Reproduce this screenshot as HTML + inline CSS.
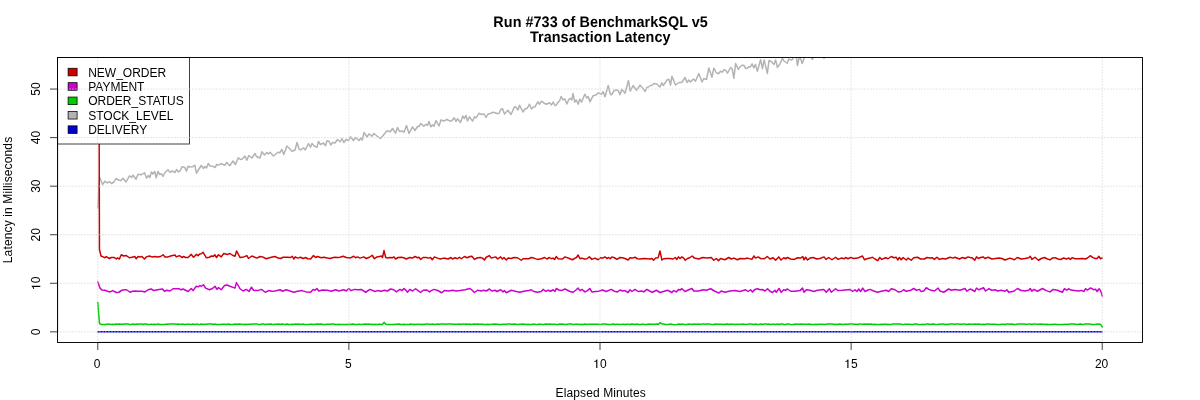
<!DOCTYPE html>
<html><head><meta charset="utf-8"><style>html,body{margin:0;padding:0;background:#fff;width:1200px;height:400px;overflow:hidden}svg{display:block;will-change:transform}</style></head>
<body><svg width="1200" height="400" viewBox="0 0 1200 400">
<rect width="1200" height="400" fill="#fff"/>
<defs><clipPath id="pc"><rect x="57.6" y="57.6" width="1084.8" height="284.8"/></clipPath></defs>
<g clip-path="url(#pc)">
<line x1="97.78" y1="331.75" x2="1102.22" y2="331.75" stroke="#0000CD" stroke-width="1.5" stroke-linecap="round"/>
<polyline points="97.80,208.00 99.45,177.00 100.00,178.00 102.50,184.50 105.00,181.20 107.50,183.00 109.50,181.50 111.50,183.50 114.00,182.00 116.00,178.50 118.50,180.00 121.00,180.50 123.00,178.20 126.00,182.00 129.50,175.80 131.50,177.50 133.00,175.20 136.00,179.30 138.00,174.30 141.00,174.80 144.50,172.80 146.50,178.00 148.50,175.50 149.80,177.50 151.50,172.00 153.00,174.00 154.80,171.50 156.20,177.80 158.00,171.50 159.80,174.50 161.50,173.80 163.00,176.50 165.00,172.50 168.00,169.70 170.00,172.20 172.50,171.00 175.00,172.50 176.50,169.50 178.50,172.00 180.00,171.00 182.00,166.80 184.50,167.20 186.50,171.20 188.00,166.20 190.00,167.00 192.50,166.80 194.80,165.20 196.50,173.20 199.00,169.00 201.20,165.50 203.50,168.50 205.00,166.50 206.50,168.00 208.20,163.50 210.00,166.00 212.50,166.20 215.00,167.50 216.80,164.50 219.00,165.00 221.00,163.50 223.00,164.50 225.00,165.20 226.80,162.50 229.80,165.80 233.00,161.00 235.50,164.50 238.20,157.80 240.50,159.50 242.20,159.00 245.00,156.00 246.80,160.30 248.80,155.50 252.00,158.00 255.00,153.50 256.50,156.50 260.00,158.00 261.80,151.80 264.50,155.00 266.80,152.50 268.20,154.00 270.00,152.20 273.50,156.00 278.00,152.20 279.80,152.80 281.80,149.50 283.80,154.50 286.80,146.00 289.50,148.50 292.00,151.20 295.00,150.00 297.00,142.50 299.00,148.80 300.50,150.00 303.50,147.80 305.30,150.00 308.50,143.50 310.50,147.20 312.00,143.50 314.20,146.00 317.00,147.20 318.50,141.50 320.50,144.50 323.50,143.00 325.50,145.80 327.00,140.80 329.00,141.20 330.70,145.00 332.50,142.50 335.00,143.00 337.50,139.50 340.20,141.80 342.00,138.50 343.80,142.50 346.00,139.50 348.50,140.50 350.50,136.80 353.50,140.50 355.50,137.50 359.00,140.50 360.80,138.00 362.20,140.20 364.00,132.50 367.00,137.00 369.00,133.80 371.80,136.20 374.00,133.50 377.00,136.00 380.50,138.50 383.50,135.00 387.00,130.80 390.20,131.80 392.50,128.50 395.50,133.20 397.50,127.50 399.50,131.50 402.00,131.00 404.00,132.20 406.50,125.50 409.00,133.50 412.50,126.80 415.00,130.50 417.50,126.50 419.00,126.50 420.80,123.50 423.80,126.20 426.00,124.20 427.50,125.50 429.00,121.50 430.80,126.80 432.50,124.80 434.00,126.20 436.00,120.50 439.00,126.00 441.00,119.80 443.50,121.20 447.00,119.50 450.00,121.20 452.00,120.50 454.20,117.80 456.00,121.50 457.50,118.80 460.50,122.50 462.80,116.00 464.20,118.50 466.00,115.50 467.50,121.00 469.50,116.80 472.50,121.20 474.50,116.80 476.00,117.80 479.00,113.30 481.50,114.50 484.00,114.00 486.00,117.50 488.00,114.00 490.50,113.50 493.00,112.20 495.00,112.80 497.00,113.50 499.00,113.50 500.80,109.50 502.50,108.80 504.50,114.00 507.80,110.20 511.00,114.50 514.50,106.80 516.00,107.20 518.00,110.00 519.50,105.20 523.00,112.00 525.00,109.00 527.50,108.00 529.50,104.20 531.50,109.00 533.50,107.00 535.00,106.80 537.80,101.80 539.50,104.20 541.50,101.20 544.00,103.20 546.50,104.20 549.50,102.80 551.50,105.00 553.20,102.00 555.00,105.50 556.20,105.20 558.00,102.20 559.50,101.00 561.20,96.50 563.00,100.00 564.80,98.80 566.80,104.00 569.00,99.20 570.20,98.50 571.80,100.00 573.00,93.50 574.80,102.20 576.20,99.80 578.20,104.20 579.80,99.00 581.50,102.20 584.80,94.20 586.80,98.00 588.20,96.50 590.00,101.80 593.00,95.80 595.50,95.20 598.50,92.80 601.20,94.20 603.20,91.80 605.00,96.80 608.20,85.50 610.20,93.80 611.50,94.80 614.20,90.50 616.20,90.00 618.20,90.50 620.00,94.80 621.80,89.20 625.00,93.20 628.50,80.50 630.20,91.20 633.20,85.50 636.50,90.20 640.00,85.20 643.00,88.50 645.20,91.50 647.00,87.20 648.50,87.00 650.50,85.50 652.00,85.20 654.00,83.50 656.80,84.00 660.00,87.00 661.80,82.80 663.20,85.50 667.50,79.50 669.00,79.50 670.50,85.00 672.00,76.20 675.50,85.00 679.00,82.50 681.80,82.50 685.00,77.50 687.00,82.50 688.80,80.00 690.50,82.00 693.50,79.00 695.50,81.20 698.80,73.50 702.00,82.00 703.80,78.50 706.50,79.50 708.80,68.00 712.00,77.20 713.80,68.20 716.20,72.50 718.50,73.80 720.50,71.20 722.20,72.20 724.00,69.80 725.50,70.20 727.50,73.20 730.50,67.50 732.20,69.00 733.90,78.25 735.60,63.60 738.25,69.25 740.10,66.60 742.40,65.10 743.90,65.50 745.75,68.50 747.40,68.35 748.75,66.60 750.25,67.15 752.10,63.85 753.85,67.90 755.50,64.40 757.40,71.35 760.60,59.65 762.40,68.65 764.10,59.90 767.35,73.40 769.00,60.40 771.60,61.75 773.90,64.40 775.60,59.90 777.40,67.40 779.50,64.75 782.50,58.40 784.00,61.00 785.00,61.75 787.25,63.25 788.75,59.10 790.60,59.90 792.50,59.50 794.00,54.00 796.00,53.00 797.40,65.50 799.60,56.00 802.25,63.60 804.90,56.00 807.00,52.00 809.00,53.00 812.40,59.50 815.00,52.00 818.00,50.00 821.00,52.00 824.00,58.40 827.00,50.00 830.00,47.00" fill="none" stroke="#B3B3B3" stroke-width="1.5" stroke-linejoin="round" stroke-linecap="round"/>
<polyline points="97.78,302.50 99.45,323.50 101.13,324.46 102.80,324.56 104.47,324.42 106.15,324.55 107.82,323.92 109.50,324.23 111.17,324.56 112.84,324.36 114.52,324.53 116.19,323.98 117.87,324.23 119.54,324.07 121.21,324.28 122.89,324.30 124.56,323.91 126.24,324.05 127.91,324.10 129.59,324.54 131.26,324.44 132.93,324.01 134.61,324.46 136.28,324.00 137.96,324.33 139.63,323.99 141.30,323.90 142.98,324.51 144.65,324.05 146.33,324.05 148.00,324.59 149.67,324.51 151.35,324.11 153.02,324.58 154.70,324.28 156.37,324.38 158.04,324.05 159.72,324.56 161.39,324.39 163.07,324.58 164.74,324.53 166.41,324.11 168.09,324.16 169.76,324.02 171.44,324.01 173.11,323.95 174.79,324.11 176.46,324.33 178.13,323.91 179.81,324.38 181.48,324.14 183.16,324.12 184.83,324.48 186.50,324.24 188.18,324.13 189.85,324.24 191.53,324.40 193.20,323.94 194.87,324.59 196.55,323.92 198.22,324.43 199.90,324.50 201.57,323.92 203.24,324.46 204.92,324.16 206.59,324.31 208.27,323.91 209.94,323.94 211.61,324.03 213.29,324.57 214.96,324.04 216.64,324.43 218.31,324.56 219.99,324.57 221.66,324.15 223.33,324.15 225.01,324.27 226.68,324.45 228.36,323.98 230.03,324.43 231.70,324.46 233.38,324.51 235.05,323.93 236.73,324.57 238.40,323.97 240.07,324.15 241.75,324.33 243.42,324.55 245.10,324.15 246.77,324.55 248.44,324.29 250.12,324.13 251.79,324.13 253.47,324.03 255.14,323.96 256.81,324.01 258.49,324.39 260.16,324.61 261.84,324.02 263.51,323.94 265.19,324.60 266.86,324.28 268.53,324.19 270.21,324.07 271.88,324.32 273.56,324.49 275.23,324.23 276.90,324.20 278.58,323.95 280.25,324.55 281.93,323.93 283.60,324.25 285.27,324.50 286.95,324.00 288.62,324.42 290.30,324.57 291.97,324.35 293.64,324.46 295.32,323.98 296.99,324.21 298.67,324.01 300.34,324.50 302.01,324.12 303.69,324.23 305.36,324.61 307.04,324.51 308.71,324.59 310.39,324.23 312.06,324.25 313.73,324.42 315.41,324.25 317.08,324.11 318.76,324.19 320.43,324.01 322.10,324.18 323.78,324.60 325.45,324.58 327.13,324.35 328.80,324.26 330.47,324.15 332.15,323.97 333.82,324.10 335.50,324.46 337.17,324.52 338.84,324.16 340.52,324.46 342.19,324.45 343.87,324.40 345.54,324.38 347.21,324.44 348.89,324.17 350.56,324.41 352.24,324.11 353.91,324.25 355.59,324.45 357.26,324.40 358.93,324.12 360.61,324.57 362.28,324.37 363.96,324.32 365.63,323.92 367.30,324.30 368.98,324.09 370.65,324.38 372.33,324.24 374.00,324.49 375.67,324.37 377.35,324.47 379.02,324.16 380.70,324.36 382.37,324.43 384.04,322.36 385.72,324.16 387.39,324.50 389.07,324.52 390.74,324.40 392.41,324.60 394.09,324.58 395.76,324.28 397.44,324.29 399.11,324.03 400.79,324.50 402.46,324.57 404.13,324.25 405.81,324.40 407.48,324.42 409.16,324.43 410.83,324.04 412.50,324.46 414.18,324.32 415.85,324.38 417.53,324.21 419.20,324.35 420.87,324.46 422.55,324.36 424.22,324.42 425.90,323.94 427.57,324.03 429.24,324.23 430.92,324.37 432.59,324.07 434.27,324.40 435.94,324.36 437.61,323.95 439.29,324.25 440.96,324.08 442.64,323.96 444.31,324.01 445.99,324.14 447.66,324.04 449.33,324.05 451.01,323.94 452.68,324.24 454.36,324.18 456.03,324.35 457.70,324.33 459.38,324.08 461.05,324.55 462.73,323.92 464.40,324.20 466.07,324.11 467.75,324.21 469.42,324.00 471.10,324.50 472.77,324.18 474.44,323.94 476.12,324.35 477.79,323.99 479.47,324.30 481.14,324.16 482.81,324.33 484.49,324.59 486.16,324.49 487.84,324.21 489.51,324.49 491.19,324.37 492.86,324.18 494.53,324.02 496.21,324.34 497.88,324.31 499.56,324.59 501.23,324.60 502.90,324.35 504.58,324.17 506.25,324.55 507.93,323.92 509.60,324.00 511.27,324.32 512.95,324.35 514.62,324.02 516.30,324.36 517.97,324.54 519.64,324.18 521.32,324.22 522.99,324.08 524.67,324.13 526.34,324.60 528.01,324.19 529.69,324.59 531.36,324.56 533.04,324.34 534.71,324.10 536.39,324.61 538.06,324.27 539.73,324.21 541.41,324.15 543.08,324.61 544.76,324.27 546.43,324.12 548.10,324.26 549.78,324.01 551.45,324.36 553.13,324.23 554.80,324.13 556.47,324.47 558.15,324.50 559.82,323.93 561.50,324.30 563.17,324.11 564.84,324.58 566.52,324.47 568.19,324.10 569.87,324.11 571.54,324.03 573.21,324.62 574.89,324.13 576.56,324.35 578.24,324.26 579.91,324.38 581.59,324.35 583.26,324.44 584.93,324.01 586.61,324.46 588.28,324.13 589.96,324.30 591.63,324.16 593.30,324.13 594.98,324.30 596.65,324.25 598.33,324.18 600.00,324.45 601.67,324.34 603.35,323.95 605.02,324.10 606.70,324.24 608.37,324.57 610.04,324.55 611.72,324.31 613.39,323.94 615.07,324.47 616.74,324.23 618.41,324.33 620.09,324.42 621.76,324.37 623.44,324.26 625.11,324.56 626.79,324.20 628.46,324.20 630.13,324.52 631.81,324.06 633.48,324.13 635.16,324.51 636.83,323.97 638.50,324.51 640.18,324.41 641.85,324.23 643.53,324.13 645.20,324.47 646.87,324.56 648.55,324.03 650.22,324.26 651.90,324.31 653.57,324.28 655.24,324.16 656.92,324.04 658.59,324.34 660.27,322.58 661.94,323.98 663.61,324.09 665.29,324.50 666.96,324.48 668.64,324.39 670.31,323.95 671.99,324.43 673.66,324.61 675.33,324.63 677.01,324.42 678.68,323.96 680.36,324.52 682.03,324.08 683.70,324.38 685.38,324.60 687.05,324.43 688.73,324.02 690.40,324.13 692.07,324.57 693.75,324.03 695.42,324.36 697.10,324.22 698.77,324.04 700.44,324.37 702.12,323.96 703.79,324.01 705.47,324.20 707.14,323.98 708.81,323.97 710.49,324.33 712.16,324.45 713.84,324.55 715.51,324.02 717.19,324.23 718.86,324.15 720.53,324.35 722.21,324.27 723.88,324.59 725.56,324.19 727.23,323.97 728.90,324.42 730.58,324.04 732.25,324.37 733.93,324.29 735.60,324.57 737.27,324.32 738.95,324.37 740.62,324.12 742.30,324.32 743.97,324.11 745.64,324.46 747.32,324.29 748.99,324.03 750.67,324.10 752.34,324.19 754.01,324.45 755.69,324.06 757.36,324.43 759.04,324.39 760.71,323.99 762.39,324.40 764.06,324.00 765.73,324.02 767.41,324.35 769.08,324.10 770.76,324.55 772.43,324.27 774.10,324.16 775.78,324.49 777.45,323.95 779.13,324.44 780.80,323.97 782.47,324.04 784.15,324.60 785.82,324.41 787.50,324.09 789.17,324.02 790.84,324.62 792.52,324.40 794.19,324.51 795.87,324.03 797.54,324.37 799.21,324.18 800.89,324.10 802.56,324.17 804.24,324.36 805.91,324.18 807.59,324.21 809.26,324.03 810.93,324.52 812.61,324.39 814.28,324.50 815.96,324.24 817.63,324.53 819.30,324.30 820.98,324.35 822.65,324.34 824.33,324.45 826.00,324.21 827.67,324.00 829.35,323.96 831.02,324.08 832.70,323.96 834.37,324.56 836.04,324.27 837.72,324.47 839.39,323.94 841.07,324.27 842.74,324.56 844.41,324.37 846.09,324.24 847.76,324.26 849.44,324.01 851.11,324.05 852.79,324.05 854.46,324.20 856.13,324.21 857.81,324.55 859.48,324.04 861.16,324.12 862.83,324.13 864.50,324.05 866.18,324.14 867.85,324.10 869.53,324.28 871.20,323.96 872.87,324.59 874.55,324.20 876.22,324.60 877.90,324.42 879.57,324.41 881.24,324.27 882.92,324.60 884.59,324.02 886.27,324.41 887.94,324.14 889.61,324.41 891.29,324.45 892.96,324.05 894.64,324.08 896.31,323.96 897.99,324.10 899.66,323.99 901.33,324.22 903.01,324.62 904.68,324.20 906.36,324.16 908.03,324.27 909.70,324.14 911.38,324.45 913.05,324.44 914.73,324.06 916.40,324.11 918.07,324.41 919.75,324.60 921.42,324.39 923.10,324.24 924.77,324.62 926.44,323.95 928.12,323.98 929.79,324.49 931.47,324.23 933.14,323.97 934.81,324.33 936.49,324.63 938.16,324.31 939.84,324.19 941.51,324.01 943.19,323.99 944.86,324.57 946.53,324.29 948.21,324.60 949.88,323.98 951.56,324.11 953.23,323.98 954.90,324.22 956.58,323.98 958.25,324.12 959.93,324.23 961.60,324.16 963.27,323.98 964.95,323.97 966.62,324.62 968.30,324.07 969.97,324.30 971.64,324.23 973.32,324.32 974.99,324.00 976.67,324.16 978.34,324.02 980.01,324.32 981.69,324.59 983.36,324.36 985.04,324.54 986.71,324.09 988.39,323.96 990.06,324.32 991.73,324.29 993.41,324.34 995.08,324.21 996.76,324.38 998.43,324.45 1000.10,324.58 1001.78,324.16 1003.45,324.26 1005.13,324.52 1006.80,324.10 1008.47,324.03 1010.15,324.16 1011.82,324.01 1013.50,324.49 1015.17,324.52 1016.84,324.16 1018.52,324.04 1020.19,324.00 1021.87,324.12 1023.54,324.01 1025.21,324.25 1026.89,324.35 1028.56,324.12 1030.24,323.99 1031.91,324.44 1033.59,323.98 1035.26,324.09 1036.93,324.15 1038.61,324.21 1040.28,324.02 1041.96,324.24 1043.63,324.17 1045.30,324.47 1046.98,324.34 1048.65,324.57 1050.33,324.41 1052.00,324.48 1053.67,324.35 1055.35,324.26 1057.02,324.52 1058.70,324.41 1060.37,324.62 1062.04,324.46 1063.72,324.44 1065.39,324.14 1067.07,324.52 1068.74,324.22 1070.41,324.04 1072.09,323.99 1073.76,324.07 1075.44,324.13 1077.11,324.42 1078.79,324.15 1080.46,323.99 1082.13,324.48 1083.81,324.34 1085.48,323.97 1087.16,323.98 1088.83,324.04 1090.50,324.20 1092.18,324.55 1093.85,324.61 1095.53,324.38 1097.20,324.11 1098.87,324.25 1100.55,324.20 1102.22,327.00" fill="none" stroke="#00CD00" stroke-width="1.5" stroke-linejoin="round" stroke-linecap="round"/>
<polyline points="97.80,281.90 100.00,288.10 101.90,290.00 105.00,290.25 107.50,291.25 110.00,291.90 112.75,290.60 116.25,292.50 118.75,292.25 121.90,290.25 124.40,289.75 126.50,289.75 130.00,292.25 132.50,291.25 135.00,291.00 138.10,291.25 141.90,291.25 145.00,291.90 148.10,289.75 151.25,289.00 153.75,290.60 157.50,289.75 162.50,289.00 164.40,291.25 166.90,290.25 170.00,291.00 173.10,288.75 175.00,288.75 178.75,288.75 181.25,289.75 183.10,289.00 188.10,291.50 191.25,288.50 193.10,290.60 196.25,286.25 198.10,286.90 200.00,285.60 201.50,286.25 203.50,284.75 205.60,288.10 209.40,289.75 212.50,288.50 215.00,286.25 216.90,289.40 218.50,287.50 221.25,289.75 224.40,285.60 226.90,285.00 230.00,286.25 235.00,288.10 236.50,282.50 240.00,288.75 243.10,291.00 246.25,289.40 249.00,291.50 251.50,287.25 253.50,290.25 257.50,290.60 261.50,289.40 265.25,292.25 268.75,290.60 271.90,291.25 275.00,291.00 280.00,289.75 282.50,291.25 286.25,289.75 290.00,291.00 293.75,292.25 297.50,291.25 301.90,290.60 306.25,291.90 310.60,292.25 313.10,289.40 315.00,290.25 316.90,288.50 318.75,291.00 322.50,290.00 327.50,290.25 331.25,291.25 335.60,289.75 338.75,291.00 343.75,289.75 346.25,291.00 348.75,288.50 351.00,290.60 354.40,289.40 358.10,289.75 361.25,289.40 365.60,292.25 370.00,289.40 375.00,291.50 377.50,290.60 381.25,291.25 384.40,290.25 387.50,291.00 390.60,289.00 393.75,289.75 396.25,291.90 400.00,289.40 401.90,290.60 404.00,288.50 406.25,290.60 407.50,292.25 409.75,289.40 412.50,291.00 415.60,288.75 418.10,290.60 420.60,292.50 423.10,290.25 426.90,290.00 429.40,291.90 431.25,290.60 434.00,289.40 436.90,290.25 438.75,291.00 441.50,292.75 444.40,290.60 448.75,291.00 452.50,290.25 456.25,291.00 460.00,290.60 465.00,289.75 470.00,288.50 471.90,290.00 474.40,292.50 477.50,290.25 481.25,291.00 483.75,290.25 486.25,291.00 489.40,289.00 491.90,291.00 495.00,290.25 496.90,291.50 500.60,289.75 503.10,291.90 504.40,290.60 506.25,292.75 511.25,290.25 516.25,291.50 520.00,292.25 523.75,291.25 528.75,290.60 531.25,289.75 533.75,291.50 537.50,292.25 541.25,291.50 543.10,289.40 545.60,291.25 548.10,290.25 550.60,291.25 553.10,289.75 555.00,291.50 556.25,288.50 558.75,290.00 561.25,290.60 565.00,289.00 570.00,291.50 573.10,292.25 575.60,290.25 578.10,288.10 580.00,290.60 581.90,289.40 585.00,291.90 587.50,290.60 589.75,288.50 591.90,291.90 595.60,291.50 598.75,291.25 602.50,290.00 606.25,291.50 611.25,289.40 614.40,291.25 617.50,291.90 620.00,290.00 622.50,291.00 625.00,290.60 628.10,292.50 630.00,289.75 631.90,291.50 635.00,289.40 638.10,291.50 641.90,291.00 643.75,291.90 646.90,289.40 650.00,291.25 652.50,292.25 656.25,290.25 660.00,292.50 665.00,291.00 667.50,290.25 670.00,291.50 671.90,292.50 673.75,290.60 676.25,291.90 678.75,289.40 680.00,290.00 681.90,288.75 685.00,291.50 688.75,289.75 691.90,288.50 693.75,291.00 698.75,291.00 703.10,289.75 706.25,290.25 710.60,288.75 715.00,291.25 718.75,293.10 721.25,291.00 725.00,292.25 730.00,291.00 735.00,290.60 740.00,291.50 745.60,289.75 748.10,291.50 750.60,289.75 752.50,291.90 755.00,289.40 757.50,288.75 760.00,289.75 762.50,289.40 765.00,291.00 767.50,288.75 770.00,291.25 772.50,292.50 775.00,290.25 776.25,292.25 779.00,288.50 781.25,292.25 783.75,289.75 785.60,290.25 787.50,289.00 790.60,291.25 795.00,291.25 800.00,290.60 802.50,288.10 804.00,292.25 806.25,289.75 810.00,290.25 813.75,291.50 817.50,290.25 823.75,289.40 826.25,292.25 829.40,288.75 831.25,292.25 835.60,288.75 838.10,290.60 842.50,290.25 850.00,289.40 852.50,291.50 855.00,289.75 856.90,291.50 858.75,289.00 860.60,291.50 862.75,288.10 865.00,291.50 867.50,290.25 870.00,289.40 873.75,291.00 877.50,292.25 881.25,291.25 886.25,290.25 888.75,291.50 891.25,288.75 895.00,289.75 898.10,291.90 901.25,291.50 903.50,289.75 906.25,291.25 910.00,290.60 913.75,288.50 916.50,290.25 919.40,289.40 921.25,291.50 923.75,291.00 926.25,287.75 928.75,289.40 931.25,290.25 934.40,291.00 938.10,288.10 940.00,291.00 943.75,292.25 948.75,289.00 951.25,290.25 955.00,289.40 960.00,290.25 965.00,288.50 966.90,291.25 970.00,289.00 971.90,289.75 974.75,291.50 976.50,288.10 978.75,289.75 980.60,289.00 983.50,287.75 985.60,291.00 988.75,288.75 991.90,290.25 995.00,289.75 997.50,291.00 1001.25,290.25 1005.00,291.25 1006.90,289.75 1008.75,292.25 1013.75,291.25 1017.50,288.50 1020.60,290.25 1025.00,291.00 1028.75,290.25 1030.25,288.50 1031.90,291.25 1033.75,289.40 1037.50,291.25 1042.50,288.50 1046.25,290.60 1050.00,291.90 1053.10,289.40 1057.50,290.25 1062.25,292.25 1064.50,288.75 1066.80,290.10 1068.90,288.75 1070.90,290.10 1074.40,290.40 1078.50,291.10 1081.30,290.40 1084.00,291.50 1085.40,288.75 1087.50,290.10 1090.60,287.90 1093.60,289.70 1095.70,289.30 1097.10,291.50 1099.10,288.75 1100.80,291.10 1102.20,295.90" fill="none" stroke="#CD00CD" stroke-width="1.5" stroke-linejoin="round" stroke-linecap="round"/>
<polyline points="97.80,-400.00 99.45,249.40 101.00,256.00 103.10,256.90 104.75,257.75 106.25,256.60 109.40,258.50 111.25,257.50 114.40,257.50 116.25,259.00 117.50,257.90 119.40,259.00 121.25,254.75 123.75,256.00 126.25,255.60 129.40,257.75 131.90,257.25 134.75,256.50 136.25,258.75 138.10,256.50 140.60,256.90 141.90,256.50 144.40,259.00 146.25,256.90 149.40,256.00 151.90,256.90 155.00,256.50 157.50,256.90 160.60,256.50 163.10,254.75 165.00,256.90 168.10,256.90 170.60,256.00 175.00,255.00 176.25,256.90 179.40,255.60 181.90,257.50 183.50,256.50 185.60,257.50 188.10,257.50 191.25,254.40 193.50,257.25 196.50,254.40 198.10,255.60 199.75,254.00 201.25,253.75 203.10,252.25 206.25,257.75 209.40,257.25 211.50,256.00 213.50,256.25 214.75,254.75 216.50,257.50 218.50,254.75 221.25,256.90 223.75,253.50 227.50,254.40 230.00,253.50 232.50,255.25 235.00,256.25 236.60,251.00 240.00,257.50 243.75,256.90 246.90,255.60 248.50,258.50 251.90,256.00 256.90,258.10 260.00,256.50 262.50,256.90 266.25,258.75 271.25,257.25 275.00,256.50 278.10,258.10 280.60,258.50 283.10,257.25 287.50,257.25 290.60,257.50 292.25,256.25 293.75,259.00 295.25,256.90 297.50,258.10 300.60,257.25 303.10,258.50 305.60,257.50 307.75,258.75 310.60,259.00 313.50,255.60 315.60,257.50 317.50,256.50 321.25,257.75 323.75,257.25 327.50,258.10 330.00,258.50 332.50,257.75 335.00,257.25 337.50,257.50 340.00,257.25 343.10,256.25 346.25,257.50 350.00,258.10 353.75,256.25 355.60,257.75 357.50,256.90 360.00,258.10 363.75,256.90 366.25,258.50 369.40,257.25 372.25,255.25 374.40,258.75 376.90,256.90 379.40,256.50 381.25,256.00 382.50,257.50 384.00,250.60 385.60,257.25 387.50,258.10 390.00,257.50 392.50,257.75 394.00,256.90 395.60,259.00 398.10,257.50 401.25,257.25 403.75,257.75 406.25,259.00 409.75,257.50 412.50,258.10 415.00,256.50 417.50,257.75 419.00,257.25 420.60,259.40 423.10,257.50 426.25,257.50 428.50,258.10 430.60,257.50 432.25,259.75 434.40,256.90 437.50,258.10 440.60,259.00 443.75,258.10 448.10,259.00 451.00,257.50 452.50,259.00 455.00,257.75 457.50,258.75 459.40,257.25 461.25,258.75 464.40,256.50 466.90,257.75 470.00,256.50 471.90,256.25 474.40,259.40 477.50,257.75 480.60,257.50 482.50,258.10 484.40,260.00 486.25,257.25 489.40,255.60 491.25,258.10 495.60,256.90 497.75,259.00 500.60,256.90 502.25,259.00 504.00,257.50 506.25,260.00 508.10,258.10 511.25,258.50 513.75,257.50 517.50,257.75 521.25,260.25 523.10,258.75 528.75,258.75 531.25,257.50 533.75,258.10 537.50,259.40 541.25,258.75 544.75,257.50 546.90,259.00 549.40,257.50 551.25,258.75 553.10,258.10 554.75,259.40 556.25,256.50 558.10,258.75 562.50,259.00 565.00,256.90 570.00,258.75 572.50,259.75 575.00,258.10 576.50,257.50 578.10,255.00 580.00,258.75 581.90,258.10 584.40,259.00 586.90,258.75 589.40,256.90 591.90,259.40 595.00,258.10 598.10,259.75 600.60,257.75 602.75,258.10 605.00,256.90 606.90,258.50 608.75,257.50 610.25,258.75 611.90,256.90 614.40,257.75 616.90,259.40 620.00,257.50 622.50,257.75 625.00,258.50 628.10,260.00 630.00,257.75 632.50,258.10 635.00,257.25 637.50,258.75 640.00,259.00 643.75,258.50 647.50,258.75 650.00,259.00 651.90,258.50 653.50,260.25 655.60,258.10 658.10,257.75 660.00,251.00 661.90,260.00 663.75,258.75 666.90,258.50 670.00,258.50 673.10,259.00 675.25,257.50 676.90,259.40 678.50,256.90 680.00,258.50 681.90,256.90 683.75,258.10 685.25,260.25 687.50,258.50 690.00,257.50 692.25,256.00 694.40,258.10 698.75,259.00 702.50,257.50 707.50,258.10 711.25,257.50 713.75,260.25 716.25,258.50 718.50,260.60 720.60,258.50 725.00,259.75 728.75,257.50 731.25,259.00 733.75,258.10 737.50,259.75 740.00,258.50 745.00,258.75 747.50,258.10 751.90,259.40 754.00,256.00 755.60,258.10 758.10,256.90 760.60,258.50 764.40,258.75 767.25,256.50 770.00,259.00 773.10,257.75 775.60,260.25 778.75,256.90 781.00,260.00 783.75,257.75 785.60,258.75 787.50,257.50 790.60,259.00 794.40,259.40 797.50,257.75 800.60,258.10 802.75,256.50 804.00,259.75 805.60,257.25 807.50,260.00 810.00,258.10 813.10,257.50 816.90,259.00 820.00,258.50 824.00,256.90 826.00,259.40 828.75,257.50 831.90,259.75 835.60,257.25 838.10,259.40 841.25,258.10 844.40,258.75 845.60,257.50 848.10,258.75 850.60,257.50 853.75,258.50 857.50,258.10 862.50,256.00 864.40,259.75 866.90,258.75 870.00,258.10 872.50,257.25 875.00,259.00 877.75,260.60 879.75,257.50 881.90,259.40 885.60,257.75 888.10,258.75 891.25,256.50 893.75,257.75 896.25,257.25 897.75,260.00 899.40,257.50 901.25,259.75 903.10,257.50 906.25,260.00 908.10,258.10 911.25,260.25 913.75,257.75 917.50,257.25 920.60,259.00 924.40,259.00 926.90,257.50 930.00,258.10 932.50,257.75 934.40,259.40 936.90,257.25 939.40,259.40 942.50,258.50 945.60,259.00 950.00,257.25 953.10,258.10 955.00,257.25 959.40,259.00 962.50,257.50 965.00,258.50 968.10,256.90 970.00,257.50 972.50,258.10 974.75,260.25 976.50,256.90 978.50,258.50 980.60,257.50 983.10,256.90 985.00,258.50 988.10,257.25 991.90,259.00 995.60,258.50 998.75,258.10 1001.90,258.50 1005.00,260.00 1010.00,258.10 1014.40,259.75 1017.25,257.50 1021.25,259.00 1025.00,258.50 1028.75,257.75 1030.25,256.25 1031.90,259.40 1035.00,257.25 1038.50,260.25 1041.25,258.50 1044.40,257.50 1046.90,258.75 1049.90,259.85 1052.40,258.05 1055.10,257.65 1057.90,259.00 1060.60,259.45 1063.70,258.05 1066.40,259.00 1068.90,258.05 1070.30,259.45 1072.30,257.65 1075.10,258.75 1078.50,258.75 1082.60,258.50 1085.40,259.00 1087.50,258.05 1090.20,255.70 1093.00,257.65 1095.00,258.50 1097.10,258.50 1098.90,256.30 1100.50,258.75 1102.20,258.05" fill="none" stroke="#CD0000" stroke-width="1.5" stroke-linejoin="round" stroke-linecap="round"/>
</g>
<rect x="57.6" y="57.6" width="131.9" height="86.4" fill="#fff" stroke="#000" stroke-width="0.75"/>
<g font-family="Liberation Sans, sans-serif" font-size="12" fill="#000">
<rect x="68.1" y="68.25" width="9" height="7.6" fill="#CD0000" stroke="#000" stroke-width="0.75"/><text x="88.2" y="76.75">NEW_ORDER</text><rect x="68.1" y="82.65" width="9" height="7.6" fill="#CD00CD" stroke="#000" stroke-width="0.75"/><text x="88.2" y="91.15">PAYMENT</text><rect x="68.1" y="97.05" width="9" height="7.6" fill="#00CD00" stroke="#000" stroke-width="0.75"/><text x="88.2" y="104.90">ORDER_STATUS</text><rect x="68.1" y="111.45" width="9" height="7.6" fill="#B3B3B3" stroke="#000" stroke-width="0.75"/><text x="88.2" y="119.95">STOCK_LEVEL</text><rect x="68.1" y="125.85" width="9" height="7.6" fill="#0000CD" stroke="#000" stroke-width="0.75"/><text x="88.2" y="134.35">DELIVERY</text>
</g>
<g stroke="#D3D3D3" stroke-width="0.75" stroke-dasharray="0.75 2.25" stroke-linecap="round">
<line x1="97.778" y1="57.6" x2="97.778" y2="342.4"/><line x1="348.889" y1="57.6" x2="348.889" y2="342.4"/><line x1="600.000" y1="57.6" x2="600.000" y2="342.4"/><line x1="851.111" y1="57.6" x2="851.111" y2="342.4"/><line x1="1102.222" y1="57.6" x2="1102.222" y2="342.4"/><line x1="57.6" y1="331.852" x2="1142.4" y2="331.852"/><line x1="57.6" y1="283.293" x2="1142.4" y2="283.293"/><line x1="57.6" y1="234.734" x2="1142.4" y2="234.734"/><line x1="57.6" y1="186.175" x2="1142.4" y2="186.175"/><line x1="57.6" y1="137.616" x2="1142.4" y2="137.616"/><line x1="57.6" y1="89.057" x2="1142.4" y2="89.057"/>
</g>
<g stroke="#000" stroke-width="0.75" stroke-linecap="round">
<line x1="97.778" y1="342.4" x2="97.778" y2="349.6"/><line x1="348.889" y1="342.4" x2="348.889" y2="349.6"/><line x1="600.000" y1="342.4" x2="600.000" y2="349.6"/><line x1="851.111" y1="342.4" x2="851.111" y2="349.6"/><line x1="1102.222" y1="342.4" x2="1102.222" y2="349.6"/><line x1="97.778" y1="342.4" x2="1102.222" y2="342.4"/><line x1="50.4" y1="331.852" x2="57.6" y2="331.852"/><line x1="50.4" y1="283.293" x2="57.6" y2="283.293"/><line x1="50.4" y1="234.734" x2="57.6" y2="234.734"/><line x1="50.4" y1="186.175" x2="57.6" y2="186.175"/><line x1="50.4" y1="137.616" x2="57.6" y2="137.616"/><line x1="50.4" y1="89.057" x2="57.6" y2="89.057"/><line x1="57.6" y1="331.852" x2="57.6" y2="89.057"/>
</g>
<rect x="57.6" y="57.6" width="1084.8" height="284.8" fill="none" stroke="#000" stroke-width="0.75"/>
<rect x="57.6" y="57.6" width="1084.8" height="284.8" fill="none" stroke="#000" stroke-width="0.75"/>
<g font-family="Liberation Sans, sans-serif" font-size="12" fill="#000">
<text transform="translate(97.178,368.000)" text-anchor="middle">0</text><text transform="translate(348.289,368.000)" text-anchor="middle">5</text><g transform="translate(599.900,368.000)"><path d="M2.75 0L3.9 0L3.9-8.6L3.05-8.6C2.85-7.7 2.2-7.15 0.8-7.05L0.8-6.15C1.7-6.2 2.3-6.4 2.75-6.8Z" transform="translate(-6.45,0)"/><text x="0" y="0">0</text></g><g transform="translate(851.011,368.000)"><path d="M2.75 0L3.9 0L3.9-8.6L3.05-8.6C2.85-7.7 2.2-7.15 0.8-7.05L0.8-6.15C1.7-6.2 2.3-6.4 2.75-6.8Z" transform="translate(-6.45,0)"/><text x="0" y="0">5</text></g><text transform="translate(1101.622,368.000)" text-anchor="middle">20</text>
<text transform="translate(40.300,331.852) rotate(-90)" text-anchor="middle">0</text><g transform="translate(40.300,283.293) rotate(-90)"><path d="M2.75 0L3.9 0L3.9-8.6L3.05-8.6C2.85-7.7 2.2-7.15 0.8-7.05L0.8-6.15C1.7-6.2 2.3-6.4 2.75-6.8Z" transform="translate(-6.45,0)"/><text x="0" y="0">0</text></g><text transform="translate(40.300,234.734) rotate(-90)" text-anchor="middle">20</text><text transform="translate(40.300,186.175) rotate(-90)" text-anchor="middle">30</text><text transform="translate(40.300,137.616) rotate(-90)" text-anchor="middle">40</text><text transform="translate(40.300,89.057) rotate(-90)" text-anchor="middle">50</text>
<text x="600.7" y="396.8" text-anchor="middle" textLength="90.3">Elapsed Minutes</text>
<text transform="translate(11.7,200) rotate(-90)" text-anchor="middle" textLength="126.4">Latency in Milliseconds</text>
</g>
<g font-family="Liberation Sans, sans-serif" font-size="14.4" font-weight="bold" fill="#000" text-anchor="middle" text-rendering="geometricPrecision">
<text transform="translate(600.6,26.8) scale(1,1.06)" textLength="214.5">Run #733 of BenchmarkSQL v5</text>
<text transform="translate(600.2,42.0) scale(1,1.06)" textLength="140.6">Transaction Latency</text>
</g>
</svg></body></html>
